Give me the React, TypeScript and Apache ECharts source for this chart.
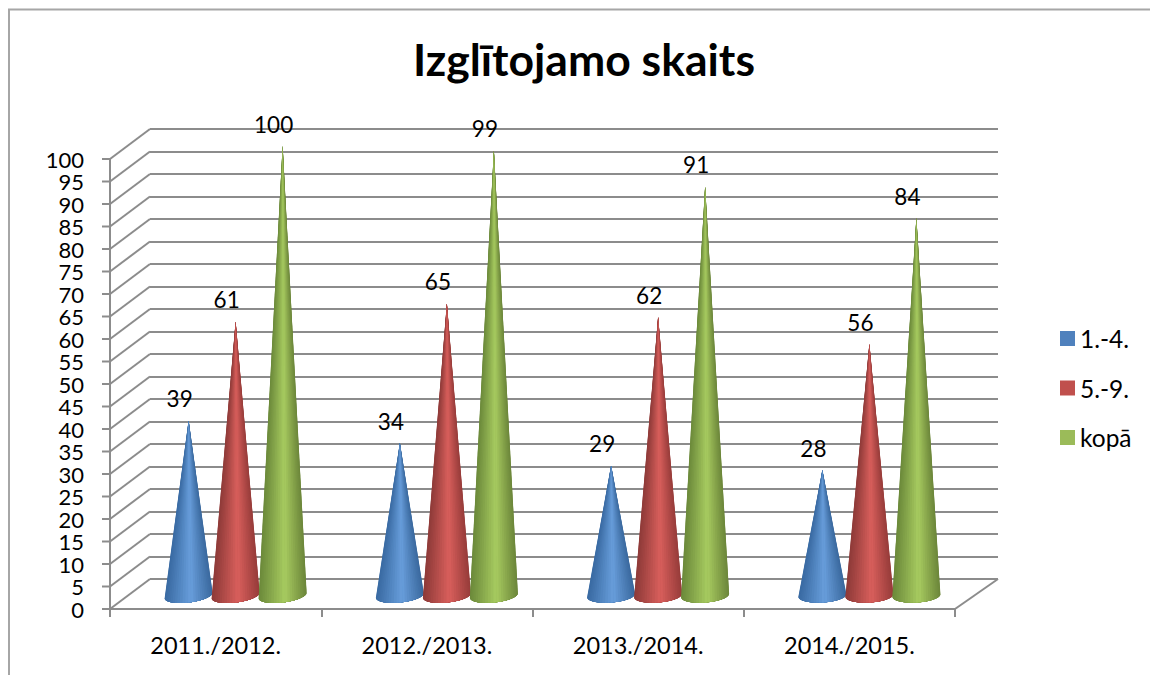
import React, { useEffect, useRef } from "react";
import * as echarts from "echarts";

const title = "Izglītojamo skaits";
const categories = ["2011./2012.", "2012./2013.", "2013./2014.", "2014./2015."];
const junior = [39, 34, 29, 28];
const middle = [61, 65, 62, 56];
const total = [100, 99, 91, 84];
const seriesNames = ["1.-4.", "5.-9.", "kopā"];
const seriesValues = [junior, middle, total];
const legendColors = ["#4f81bd", "#c0504d", "#9bbb59"];
const gradients = [
  ["#3a6ba3", "#6ba1df", "#3b6a9f"],
  ["#8f3b39", "#dd615e", "#983d3b"],
  ["#6c8a3b", "#abcf62", "#6d873b"],
];
const FONT = "Lato";
const GRID_COLOR = "#8c8c8c";
const depthX = 40;
const depthY = 30;
const coneSpacing = 47;
const coneHalf = 24;
const steps = 14;
const peakCos = 0.1;
const tickLength = 8;

function coneRenderer(seriesIndex: number) {
  return (_params: any, api: any) => {
    const cat = api.value(0);
    const val = api.value(1);
    const top = api.coord([cat, val]);
    const base = api.coord([cat, 0]);
    const cx = top[0] + depthX / 2 + (seriesIndex - 1) * coneSpacing;
    const tipY = top[1] - depthY / 2 + 2;
    const cy = base[1] - 13.5;
    const tilt = 2.8 - cat * 0.5;
    const pt = (t: number) => [
      cx + coneHalf * Math.cos(t),
      cy + 7 * Math.sin(t) - tilt * Math.cos(t),
    ];
    const c = gradients[seriesIndex];
    const tc = Math.acos(peakCos);
    const children: any[] = [];
    const wedge = (from: number, to: number, color: string) => {
      const points: number[][] = [[cx, tipY]];
      for (let j = 0; j <= 10; j++) points.push(pt(from + ((to - from) * j) / 10));
      children.push({ type: "polygon", shape: { points }, style: { fill: color } });
    };
    for (let k = 0; k < steps; k++) {
      const rightU = Math.cos(tc * (k / steps));
      const leftU = Math.cos(Math.PI - (Math.PI - tc) * (k / steps));
      const rCol = echarts.color.lerp(1 - (rightU - peakCos) / (1 - peakCos), [c[2], c[1]]);
      const lCol = echarts.color.lerp(1 - (leftU - peakCos) / (-1 - peakCos), [c[0], c[1]]);
      wedge(tc * (k / steps), tc, rCol);
      wedge(Math.PI - (Math.PI - tc) * (k / steps), tc, lCol);
    }
    children.push({
      type: "text",
      x: cx - 9,
      y: tipY - 22,
      style: {
        text: String(val),
        fontFamily: FONT,
        fontSize: 22.5,
        fill: "#000",
        align: "center",
        verticalAlign: "middle",
      },
    });
    return { type: "group", children };
  };
}

function lineEl(x1: number, y1: number, x2: number, y2: number) {
  return {
    type: "line",
    shape: { x1, y1, x2, y2 },
    style: { stroke: GRID_COLOR, lineWidth: 2 },
  };
}

function depthRenderer(_params: any, api: any) {
  const band = api.size([1, 0])[0];
  const p = api.coord([0, api.value(0)]);
  const x = p[0] - band / 2;
  return {
    type: "group",
    children: [
      lineEl(x, p[1], x + depthX, p[1] - depthY),
      lineEl(x - tickLength, p[1], x, p[1]),
    ],
  };
}

function floorRenderer(_params: any, api: any) {
  const band = api.size([1, 0])[0];
  const p = api.coord([categories.length - 1, 0]);
  const bottomLeft = api.coord([0, 0]);
  const topLeft = api.coord([0, 100]);
  const right = p[0] + band / 2;
  const left = bottomLeft[0] - band / 2;
  return {
    type: "group",
    children: [
      lineEl(right, p[1], right + depthX + 3, p[1] - depthY),
      lineEl(left, bottomLeft[1] + 1, left, topLeft[1] - 1),
    ],
  };
}

const tickValues = Array.from({ length: 21 }, (_, i) => [i * 5]);

export default function App() {
  const ref = useRef<HTMLDivElement>(null);
  useEffect(() => {
    const chart = echarts.init(ref.current!, null, { renderer: "svg" });
    chart.setOption({
      animation: false,
      backgroundColor: "#fff",
      title: {
        text: title,
        left: 579,
        top: 31,
        textAlign: "center",
        textStyle: { fontFamily: FONT, fontSize: 44.5, fontWeight: "bold", color: "#000" },
      },
      legend: {
        orient: "vertical",
        left: 1060,
        top: 326,
        padding: 0,
        itemWidth: 15,
        itemHeight: 15,
        itemGap: 24.5,
        icon: "rect",
        data: seriesNames,
        textStyle: { fontFamily: FONT, fontSize: 24.5, color: "#000" },
      },
      grid: [
        { left: 110, right: 195, top: 159, height: 450 },
        { left: 150, right: 152, top: 129, height: 450 },
      ],
      xAxis: [
        {
          type: "category",
          data: categories,
          gridIndex: 0,
          boundaryGap: true,
          axisLine: { lineStyle: { color: GRID_COLOR, width: 2 } },
          axisTick: { show: true, length: 8, alignWithLabel: false, lineStyle: { color: GRID_COLOR, width: 2 } },
          axisLabel: { fontFamily: FONT, fontSize: 23.5, color: "#000", margin: 24 },
        },
        {
          type: "category",
          data: categories,
          gridIndex: 1,
          axisLine: { show: false },
          axisTick: { show: false },
          axisLabel: { show: false },
        },
      ],
      yAxis: [
        {
          type: "value",
          min: 0,
          max: 100,
          interval: 5,
          gridIndex: 0,
          splitLine: { show: false },
          axisLine: { show: false },
          axisTick: { show: false },
          axisLabel: {
            fontFamily: FONT,
            fontSize: 22,
            color: "#000",
            margin: 26,
            hideOverlap: false,
          },
        },
        {
          type: "value",
          min: 0,
          max: 100,
          interval: 5,
          gridIndex: 1,
          axisLine: { show: false },
          axisTick: { show: false },
          axisLabel: { show: false },
          splitLine: { show: true, lineStyle: { color: GRID_COLOR, width: 2 } },
        },
      ],
      series: [
        {
          type: "custom",
          name: "depth",
          xAxisIndex: 0,
          yAxisIndex: 0,
          renderItem: depthRenderer,
          data: tickValues,
          encode: { y: 0 },
          silent: true,
        },
        {
          type: "custom",
          name: "floor",
          xAxisIndex: 0,
          yAxisIndex: 0,
          renderItem: floorRenderer,
          data: [[0]],
          encode: { y: 0 },
          silent: true,
        },
        ...seriesNames.map((name, s) => ({
          type: "custom",
          name,
          xAxisIndex: 0,
          yAxisIndex: 0,
          itemStyle: { color: legendColors[s] },
          renderItem: coneRenderer(s),
          data: seriesValues[s].map((v, i) => [i, v]),
          encode: { x: 0, y: 1 },
          clip: false,
        })),
      ],
      graphic: [
        {
          type: "polyline",
          silent: true,
          shape: { points: [[9, 675], [9, 9.5], [1150, 9.5]] },
          style: { stroke: "#a6a6a6", lineWidth: 2, fill: "none" },
        },
      ],
    });
    return () => chart.dispose();
  }, []);
  return <div ref={ref} style={{ position: "fixed", left: 0, top: 0, width: 1150, height: 675 }} />;
}
